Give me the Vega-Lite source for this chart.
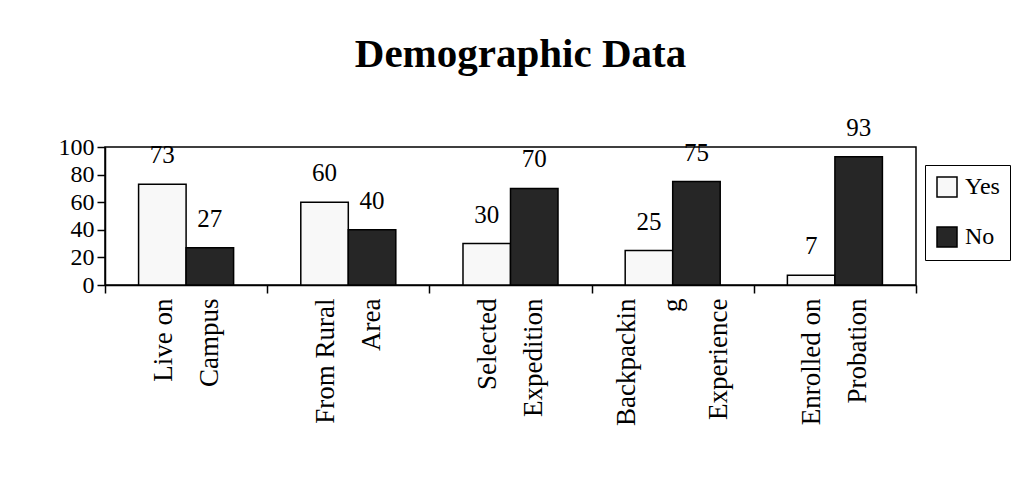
{
  "$schema": "https://vega.github.io/schema/vega-lite/v6.json",
  "autosize": {"type": "none"},
  "width": 811,
  "height": 138,
  "padding": {"left": 105, "top": 147, "right": 104, "bottom": 198},
  "background": "white",
  "title": {
    "text": "Demographic Data",
    "font": "Liberation Serif",
    "fontSize": 41,
    "fontWeight": "bold",
    "color": "black",
    "anchor": "middle",
    "dx": 10,
    "offset": 40
  },
  "config": {
    "view": {"stroke": "black", "strokeWidth": 1.5},
    "font": "Liberation Serif"
  },
  "data": {
    "values": [
      {"category": "Live on Campus", "answer": "Yes", "value": 73},
      {"category": "Live on Campus", "answer": "No", "value": 27},
      {"category": "From Rural Area", "answer": "Yes", "value": 60},
      {"category": "From Rural Area", "answer": "No", "value": 40},
      {"category": "Selected Expedition", "answer": "Yes", "value": 30},
      {"category": "Selected Expedition", "answer": "No", "value": 70},
      {"category": "Backpacking Experience", "answer": "Yes", "value": 25},
      {"category": "Backpacking Experience", "answer": "No", "value": 75},
      {"category": "Enrolled on Probation", "answer": "Yes", "value": 7},
      {"category": "Enrolled on Probation", "answer": "No", "value": 93}
    ]
  },
  "encoding": {
    "x": {
      "field": "category",
      "type": "nominal",
      "sort": null,
      "scale": {"paddingInner": 0, "paddingOuter": 0},
      "axis": {
        "title": null,
        "domainColor": "black",
        "domainWidth": 1.5,
        "tickColor": "black",
        "tickWidth": 1.5,
        "tickSize": 8,
        "tickBand": "extent",
        "labelAngle": -90,
        "labelAlign": "right",
        "labelBaseline": "middle",
        "labelFont": "Liberation Serif",
        "labelFontSize": 27,
        "labelColor": "black",
        "labelLineHeight": 46,
        "labelPadding": 5,
        "labelLimit": 300,
        "labelOffset": {"condition": {"test": "datum.value == 'Backpacking Experience'", "value": -46}, "value": -23},
        "labelExpr": "datum.value == 'Live on Campus' ? ['Live on','Campus'] : datum.value == 'From Rural Area' ? ['From Rural','Area'] : datum.value == 'Selected Expedition' ? ['Selected','Expedition'] : datum.value == 'Backpacking Experience' ? ['Backpackin','g','Experience'] : datum.value == 'Enrolled on Probation' ? ['Enrolled on','Probation'] : ''"
      }
    },
    "xOffset": {"field": "answer", "type": "nominal", "sort": ["Yes", "No"], "scale": {"paddingInner": 0, "paddingOuter": 0.707}},
    "y": {
      "field": "value",
      "type": "quantitative",
      "scale": {"domain": [0, 100], "nice": false},
      "axis": {
        "title": null,
        "values": [0, 20, 40, 60, 80, 100],
        "grid": false,
        "domainColor": "black",
        "domainWidth": 1.5,
        "tickColor": "black",
        "tickWidth": 1.5,
        "tickSize": 8,
        "labelFont": "Liberation Serif",
        "labelFontSize": 24,
        "labelColor": "black",
        "labelPadding": 3,
        "labelFlush": false
      }
    }
  },
  "layer": [
    {
      "mark": {"type": "bar", "stroke": "black", "strokeWidth": 1.5},
      "encoding": {
        "fill": {
          "field": "answer",
          "type": "nominal",
          "sort": ["Yes", "No"],
          "scale": {"domain": ["Yes", "No"], "range": ["#f8f8f8", "#262626"]},
          "legend": {
            "title": null,
            "orient": "none",
            "legendX": 820,
            "legendY": 18,
            "strokeColor": "black",
            "padding": 10,
            "symbolType": "square",
            "symbolSize": 400,
            "symbolStrokeColor": "black",
            "symbolStrokeWidth": 1.5,
            "symbolOpacity": 1,
            "labelFont": "Liberation Serif",
            "labelFontSize": 24,
            "labelColor": "black",
            "labelOffset": 6,
            "rowPadding": 24,
            "fillColor": "white"
          }
        }
      }
    },
    {
      "mark": {"type": "text", "baseline": "alphabetic", "dy": -21, "font": "Liberation Serif", "fontSize": 25, "color": "black"},
      "encoding": {
        "text": {"field": "value", "type": "quantitative"}
      }
    }
  ]
}
